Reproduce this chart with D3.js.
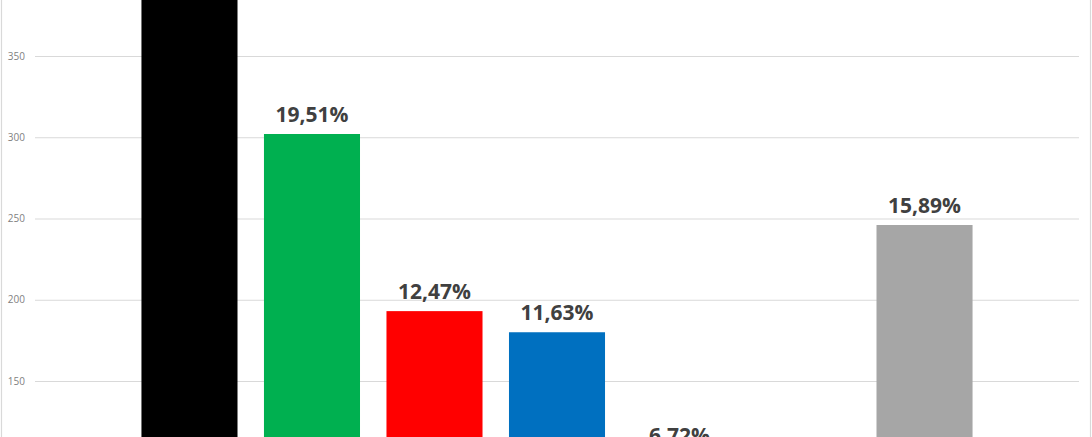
<!DOCTYPE html>
<html>
<head>
<meta charset="utf-8">
<script src="https://cdn.jsdelivr.net/npm/d3@7"></script>
<style>
  body { margin: 0; background: #fff; }
  svg { display: block; }
</style>
</head>
<body>
<div id="chart-area"></div>
<script>
// chart data
let categories = ["A", "B", "C", "D", "E", "F", "G"];
let seats = [523, 302, 193, 180, 104, null, 246];
let labels = ["33,78%", "19,51%", "12,47%", "11,63%", "6,72%", "", "15,89%"];
let colors = ["#000000", "#00b050", "#ff0000", "#0070c0", "#ffc000", "#ffffff", "#a6a6a6"];
let yTicks = [150, 200, 250, 300, 350];

let width = 1092, height = 437;

let data = categories.map((c, i) => ({cat: c, value: seats[i], label: labels[i], color: colors[i]}));

let svg = d3.select("#chart-area").append("svg")
    .attr("width", width)
    .attr("height", height);

// the picture is a crop of a taller chart, so the baseline sits below the frame
let y = d3.scaleLinear()
    .domain([0, 400])
    .range([624.75, -25.25]);

let x = d3.scaleBand()
    .domain(categories)
    .range([35, 1079])
    .paddingInner(0.216)
    .paddingOuter(0.869);

// chart border
svg.append("rect")
    .attr("x", 1.5).attr("y", -5)
    .attr("width", 1089).attr("height", height + 10)
    .attr("fill", "none")
    .attr("stroke", "#d9d9d9")
    .attr("stroke-width", 1.2);

let yAxis = d3.axisLeft(y)
    .tickValues(yTicks)
    .tickSize(-(1079 - 35))
    .tickPadding(10);

let yAxisGroup = svg.append("g")
    .attr("class", "y-axis")
    .attr("transform", "translate(35,0)")
    .call(yAxis);

yAxisGroup.select(".domain").remove();
yAxisGroup.selectAll(".tick line")
    .attr("stroke", "#d9d9d9")
    .attr("stroke-width", 1);
yAxisGroup.selectAll(".tick text")
    .attr("fill", "#7f7f7f")
    .style("font-family", "'Open Sans', sans-serif")
    .style("font-size", "10px");

let shown = data.filter(d => d.value != null);

svg.selectAll(".bar")
    .data(shown)
    .enter()
    .append("rect")
    .attr("class", "bar")
    .attr("x", d => x(d.cat))
    .attr("y", d => y(d.value))
    .attr("width", x.bandwidth())
    .attr("height", d => y(0) - y(d.value))
    .attr("fill", d => d.color);

svg.selectAll(".bar-label")
    .data(shown)
    .enter()
    .append("text")
    .attr("class", "bar-label")
    .attr("x", d => x(d.cat) + x.bandwidth() / 2)
    .attr("y", d => y(d.value) - 12.5)
    .attr("text-anchor", "middle")
    .attr("fill", "#404040")
    .style("font-family", "'Open Sans', sans-serif")
    .style("font-weight", "bold")
    .style("font-size", "21px")
    .text(d => d.label);
</script>
</body>
</html>
